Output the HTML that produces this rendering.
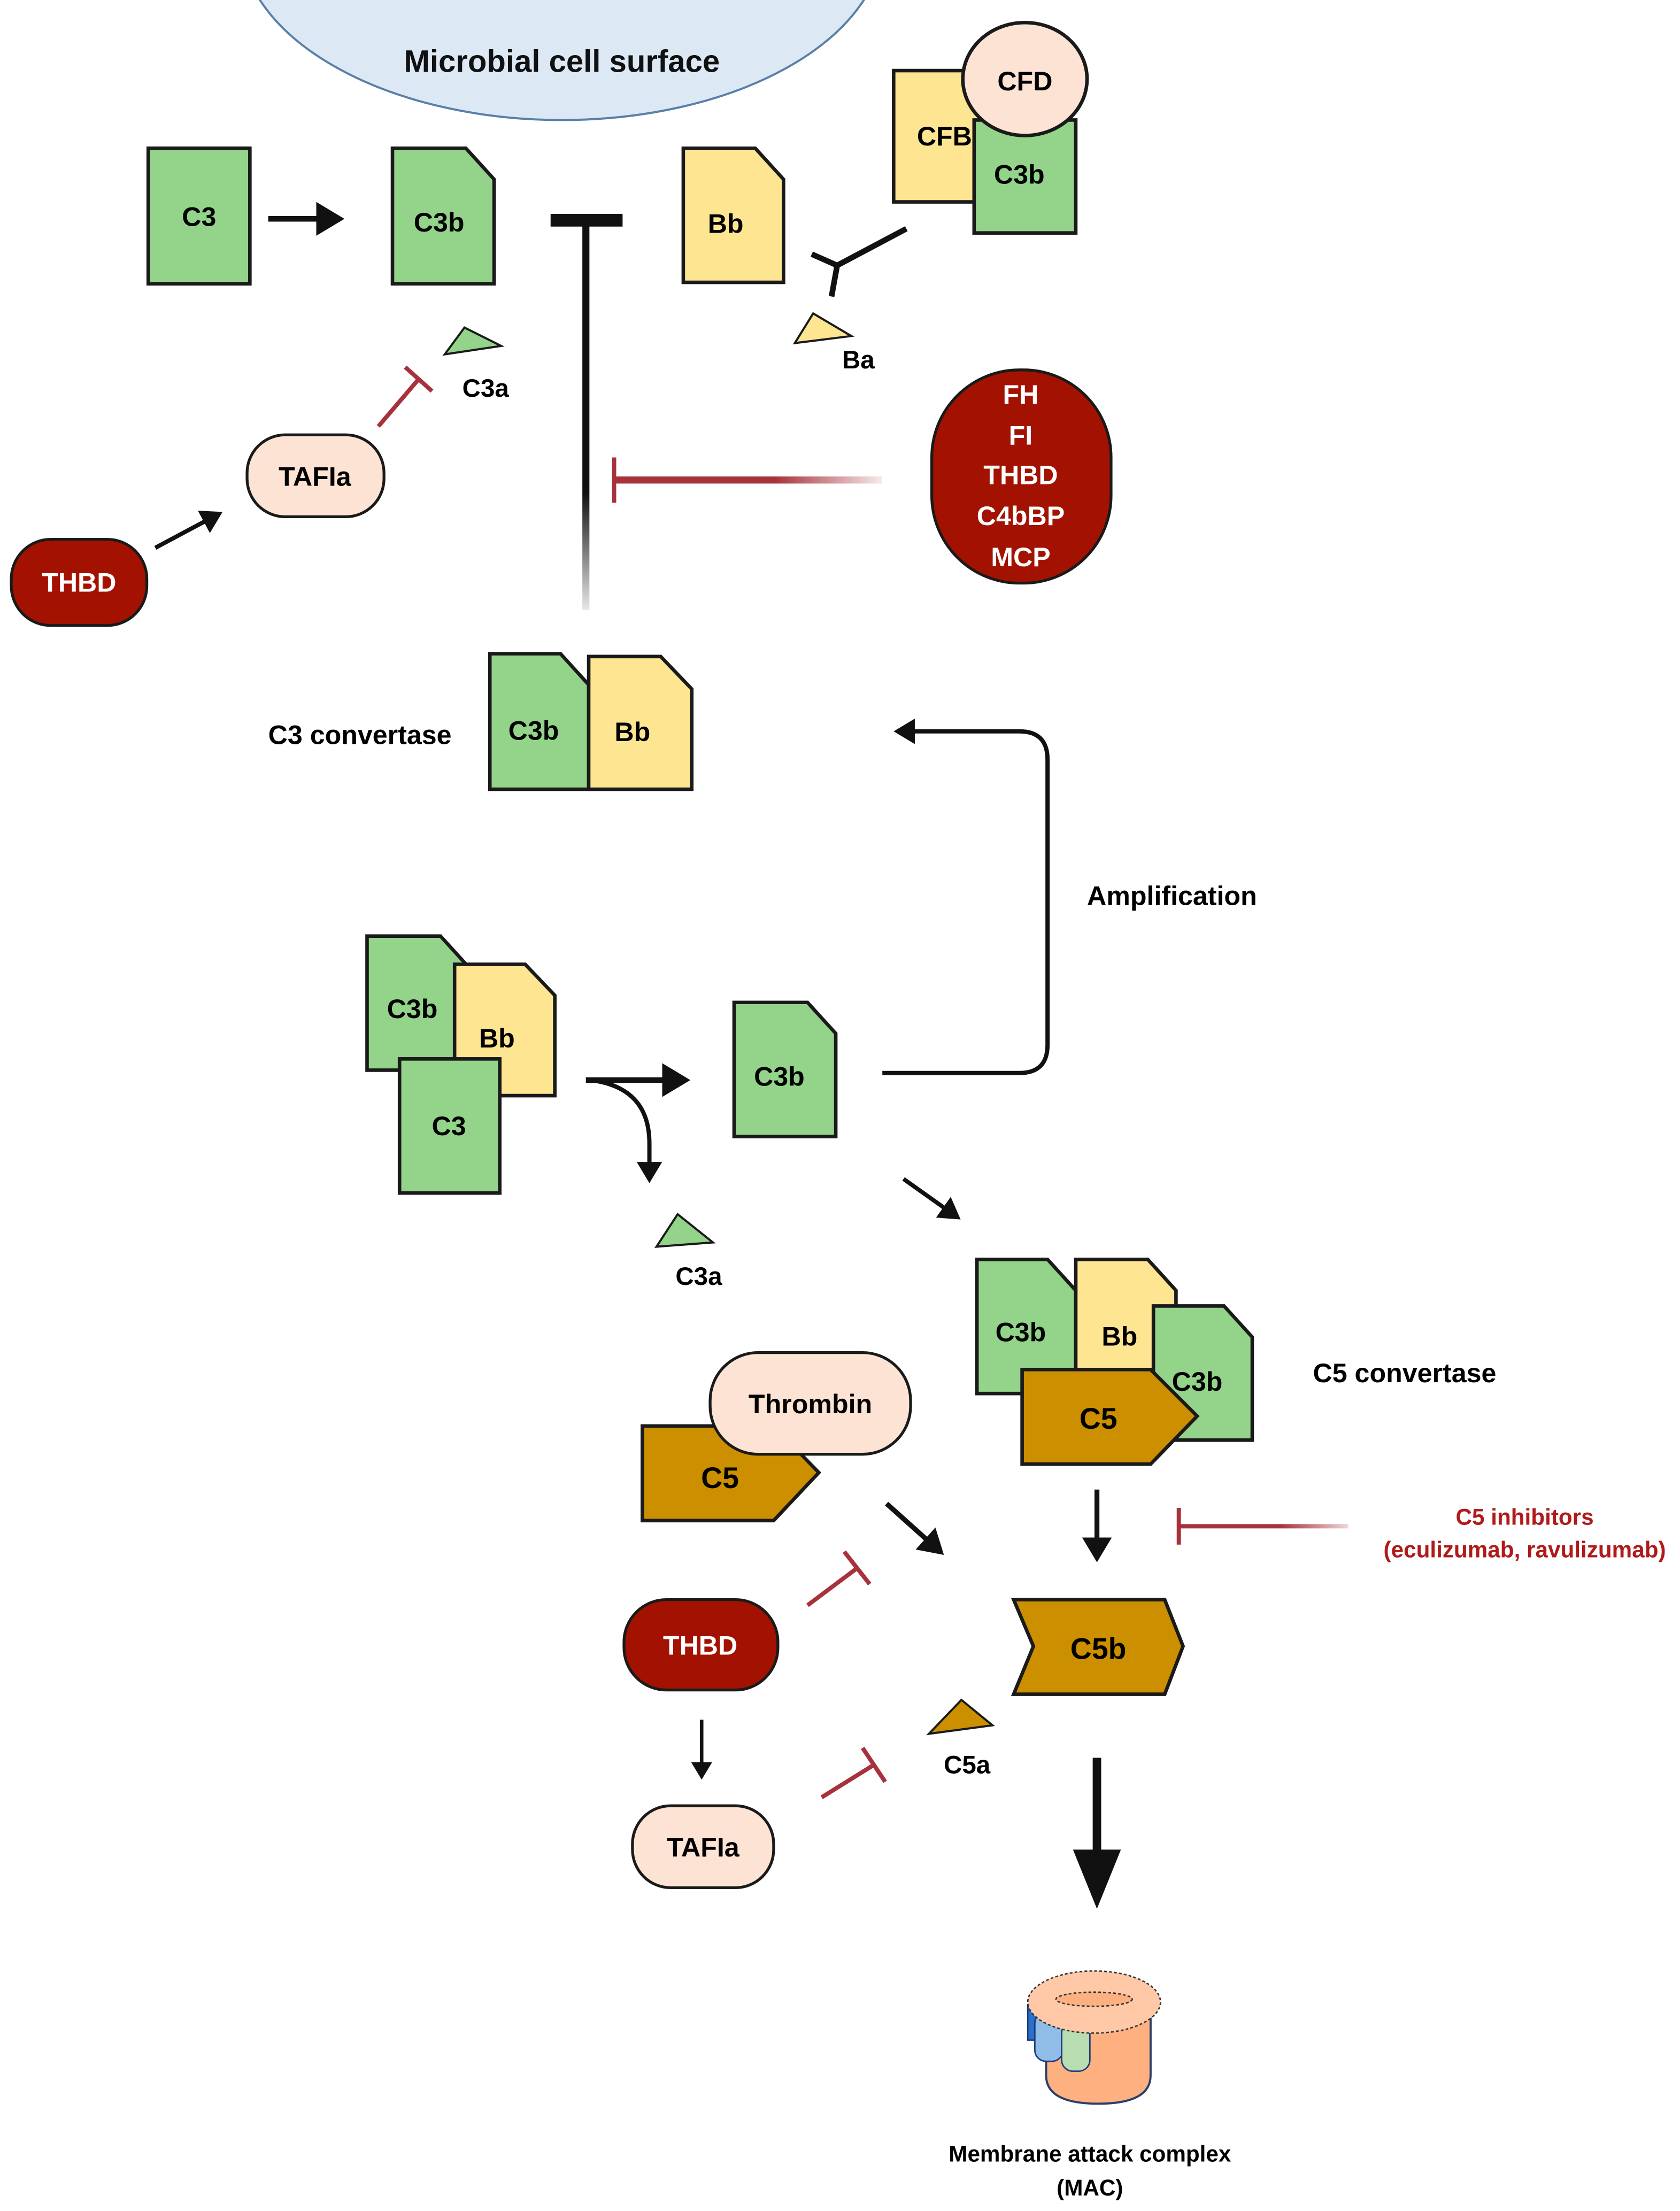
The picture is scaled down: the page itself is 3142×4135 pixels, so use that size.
<!DOCTYPE html>
<html><head><meta charset="utf-8"><style>
html,body{margin:0;padding:0;background:#fff;}
svg{display:block;}
text{font-family:"Liberation Sans",sans-serif;font-weight:bold;}
</style></head><body>
<svg width="3142" height="4135" viewBox="0 0 1190 1566" preserveAspectRatio="none" xmlns="http://www.w3.org/2000/svg">
<defs>
<marker id="ah" markerWidth="6" markerHeight="6" refX="4" refY="3" orient="auto" markerUnits="strokeWidth"><path d="M0,0 L5,3 L0,6 Z" fill="#111"/></marker>
<linearGradient id="fadeV" gradientUnits="userSpaceOnUse" x1="0" y1="157" x2="0" y2="432"><stop offset="0.7" stop-color="#111"/><stop offset="1" stop-color="#111" stop-opacity="0.1"/></linearGradient>
<linearGradient id="fadeR" gradientUnits="userSpaceOnUse" x1="435" y1="0" x2="625" y2="0"><stop offset="0.6" stop-color="#a8323c"/><stop offset="1" stop-color="#a8323c" stop-opacity="0.1"/></linearGradient>
<linearGradient id="fadeR2" gradientUnits="userSpaceOnUse" x1="835" y1="0" x2="955" y2="0"><stop offset="0.6" stop-color="#a8323c"/><stop offset="1" stop-color="#a8323c" stop-opacity="0.2"/></linearGradient>
</defs>
<ellipse cx="398" cy="-45" rx="228" ry="130" fill="#dce9f5" stroke="#5a7fa8" stroke-width="1.5"/>
<text x="398" y="51" font-size="22" text-anchor="middle" fill="#111">Microbial cell surface</text>

<g stroke="#1a1a1a" stroke-width="2.5">
<rect x="105" y="105" width="72" height="96" fill="#93d48a"/>
<path d="M278,105 H330 L350,127 V201 H278 Z" fill="#93d48a"/>
<path d="M484,105 H535 L555,127 V200 H484 Z" fill="#fde592"/>
<rect x="633" y="50" width="67" height="93" fill="#fde592"/>
<rect x="690" y="85" width="72" height="80" fill="#93d48a"/>
<ellipse cx="726" cy="56" rx="44" ry="40" fill="#fde3d3"/>
</g>
<text x="141" y="160" font-size="19" text-anchor="middle">C3</text>
<text x="311" y="164" font-size="19" text-anchor="middle">C3b</text>
<text x="514" y="165" font-size="19" text-anchor="middle">Bb</text>
<text x="669" y="103" font-size="19" text-anchor="middle">CFB</text>
<text x="722" y="130" font-size="19" text-anchor="middle">C3b</text>
<text x="726" y="64" font-size="19" text-anchor="middle">CFD</text>

<line x1="190" y1="155" x2="240" y2="155" stroke="#111" stroke-width="4" marker-end="url(#ah)"/>
<line x1="415" y1="157" x2="415" y2="432" stroke="url(#fadeV)" stroke-width="5"/>
<line x1="390" y1="156" x2="441" y2="156" stroke="#111" stroke-width="9"/>
<path d="M575,180 L593,188 L642,162 M593,188 L589,210" stroke="#111" stroke-width="4" fill="none"/>
<polygon points="563,243 576,222 603,238" fill="#fde592" stroke="#1a1a1a" stroke-width="1.5"/>
<text x="608" y="261" font-size="18" text-anchor="middle">Ba</text>
<polygon points="315,251 329,232 355,245" fill="#93d48a" stroke="#1a1a1a" stroke-width="1.5"/>
<text x="344" y="281" font-size="18" text-anchor="middle">C3a</text>
<line x1="268" y1="302" x2="297" y2="268" stroke="#a8323c" stroke-width="3"/>
<line x1="287" y1="260" x2="306" y2="277" stroke="#a8323c" stroke-width="3"/>
<rect x="175" y="308" width="97" height="58" rx="27" fill="#fde3d3" stroke="#1a1a1a" stroke-width="2"/>
<text x="223" y="344" font-size="19" text-anchor="middle">TAFIa</text>
<rect x="8" y="382" width="96" height="61" rx="28" fill="#a31200" stroke="#1a1a1a" stroke-width="2"/>
<text x="56" y="419" font-size="19" text-anchor="middle" fill="#fff">THBD</text>
<line x1="110" y1="388" x2="155" y2="364" stroke="#111" stroke-width="3" marker-end="url(#ah)"/>
<rect x="660" y="262" width="127" height="151" rx="62" fill="#a31200" stroke="#1a1a1a" stroke-width="2"/>
<g font-size="19" text-anchor="middle" fill="#fff">
<text x="723" y="286">FH</text><text x="723" y="315">FI</text><text x="723" y="343">THBD</text><text x="723" y="372">C4bBP</text><text x="723" y="401">MCP</text>
</g>
<line x1="435" y1="340" x2="625" y2="340" stroke="url(#fadeR)" stroke-width="5"/>
<line x1="435" y1="324" x2="435" y2="356" stroke="#a8323c" stroke-width="3"/>

<text x="190" y="527" font-size="19">C3 convertase</text>
<g stroke="#1a1a1a" stroke-width="2.5">
<path d="M347,463 H397 L417,485 V559 H347 Z" fill="#93d48a"/>
<path d="M417,465 H468 L490,488 V559 H417 Z" fill="#fde592"/>
</g>
<text x="378" y="524" font-size="19" text-anchor="middle">C3b</text>
<text x="448" y="525" font-size="19" text-anchor="middle">Bb</text>
<path d="M625,760 H722 Q742,760 742,740 V538 Q742,518 722,518 H636" stroke="#111" stroke-width="3" fill="none" marker-end="url(#ah)"/>
<text x="770" y="641" font-size="19">Amplification</text>

<g stroke="#1a1a1a" stroke-width="2.5">
<path d="M260,663 H312 L332,685 V758 H260 Z" fill="#93d48a"/>
<path d="M322,683 H372 L393,705 V776 H322 Z" fill="#fde592"/>
<rect x="283" y="750" width="71" height="95" fill="#93d48a"/>
<path d="M520,710 H572 L592,732 V805 H520 Z" fill="#93d48a"/>
</g>
<text x="292" y="721" font-size="19" text-anchor="middle">C3b</text>
<text x="352" y="742" font-size="19" text-anchor="middle">Bb</text>
<text x="318" y="804" font-size="19" text-anchor="middle">C3</text>
<text x="552" y="769" font-size="19" text-anchor="middle">C3b</text>
<line x1="415" y1="765" x2="485" y2="765" stroke="#111" stroke-width="4" marker-end="url(#ah)"/>
<path d="M418,765 Q460,770 460,810 V835" stroke="#111" stroke-width="3" fill="none" marker-end="url(#ah)"/>
<polygon points="465,883 480,860 505,880" fill="#93d48a" stroke="#1a1a1a" stroke-width="1.5"/>
<text x="495" y="910" font-size="18" text-anchor="middle">C3a</text>
<line x1="640" y1="835" x2="678" y2="862" stroke="#111" stroke-width="3" marker-end="url(#ah)"/>

<g stroke="#1a1a1a" stroke-width="2.5">
<path d="M692,892 H742 L762,914 V987 H692 Z" fill="#93d48a"/>
<path d="M762,892 H813 L833,914 V970 H762 Z" fill="#fde592"/>
<path d="M817,925 H867 L887,947 V1020 H817 Z" fill="#93d48a"/>
<path d="M724,970 H815 L848,1003 L815,1037 H724 Z" fill="#cc8f00"/>
</g>
<text x="723" y="950" font-size="19" text-anchor="middle">C3b</text>
<text x="793" y="953" font-size="19" text-anchor="middle">Bb</text>
<text x="848" y="985" font-size="19" text-anchor="middle">C3b</text>
<text x="778" y="1012" font-size="21" text-anchor="middle">C5</text>
<text x="930" y="979" font-size="19">C5 convertase</text>

<g stroke="#1a1a1a" stroke-width="2.5">
<path d="M455,1010 H548 L580,1043 L548,1077 H455 Z" fill="#cc8f00"/>
<rect x="503" y="958" width="142" height="72" rx="34" fill="#fde3d3" stroke-width="2"/>
</g>
<text x="510" y="1054" font-size="21" text-anchor="middle">C5</text>
<text x="574" y="1001" font-size="19" text-anchor="middle">Thrombin</text>
<line x1="628" y1="1065" x2="666" y2="1099" stroke="#111" stroke-width="3.5" marker-end="url(#ah)"/>
<line x1="777" y1="1055" x2="777" y2="1103" stroke="#111" stroke-width="3.5" marker-end="url(#ah)"/>
<line x1="835" y1="1081" x2="955" y2="1081" stroke="url(#fadeR2)" stroke-width="3"/>
<line x1="835" y1="1068" x2="835" y2="1094" stroke="#a8323c" stroke-width="3"/>
<text x="1080" y="1080" font-size="16" text-anchor="middle" fill="#b01a1a">C5 inhibitors</text>
<text x="1080" y="1103" font-size="16" text-anchor="middle" fill="#b01a1a">(eculizumab, ravulizumab)</text>

<path d="M718,1133 H825 L838,1166 L825,1200 H718 L732,1166 Z" fill="#cc8f00" stroke="#1a1a1a" stroke-width="2.5"/>
<text x="778" y="1175" font-size="21" text-anchor="middle">C5b</text>
<rect x="442" y="1133" width="109" height="64" rx="30" fill="#a31200" stroke="#1a1a1a" stroke-width="2"/>
<text x="496" y="1172" font-size="19" text-anchor="middle" fill="#fff">THBD</text>
<line x1="572" y1="1137" x2="608" y2="1110" stroke="#a8323c" stroke-width="3"/>
<line x1="598" y1="1099" x2="616" y2="1122" stroke="#a8323c" stroke-width="3"/>
<line x1="497" y1="1218" x2="497" y2="1258" stroke="#111" stroke-width="2.5" marker-end="url(#ah)"/>
<rect x="448" y="1279" width="100" height="58" rx="27" fill="#fde3d3" stroke="#1a1a1a" stroke-width="2"/>
<text x="498" y="1315" font-size="19" text-anchor="middle">TAFIa</text>
<line x1="582" y1="1273" x2="619" y2="1250" stroke="#a8323c" stroke-width="3"/>
<line x1="611" y1="1238" x2="627" y2="1262" stroke="#a8323c" stroke-width="3"/>
<polygon points="658,1228 681,1204 703,1222" fill="#cc8f00" stroke="#1a1a1a" stroke-width="1.5"/>
<text x="685" y="1256" font-size="18" text-anchor="middle">C5a</text>
<line x1="777" y1="1245" x2="777" y2="1315" stroke="#111" stroke-width="6"/>
<polygon points="760,1310 794,1310 777,1352" fill="#111"/>

<path d="M741,1420 V1470 Q741,1490 778,1490 Q815,1490 815,1470 V1420 Z" fill="#ffb080" stroke="#2a3f6a" stroke-width="1.5"/>
<rect x="728" y="1420" width="10" height="25" fill="#2a6fc9" stroke="#1a3a7a" stroke-width="1"/>
<rect x="733" y="1425" width="20" height="35" rx="8" fill="#8fbde8" stroke="#1a3a7a" stroke-width="1"/>
<rect x="752" y="1432" width="20" height="35" rx="8" fill="#b7ddb0" stroke="#1a3a7a" stroke-width="1"/>
<ellipse cx="775" cy="1418" rx="47" ry="22" fill="#ffc9a8" stroke="#333" stroke-width="1" stroke-dasharray="2,1.5"/>
<ellipse cx="775" cy="1416" rx="27" ry="5" fill="#ffb080" stroke="#333" stroke-width="1" stroke-dasharray="2,1.5"/>
<text x="772" y="1531" font-size="16" text-anchor="middle">Membrane attack complex</text>
<text x="772" y="1555" font-size="16" text-anchor="middle">(MAC)</text>
</svg>
</body></html>
